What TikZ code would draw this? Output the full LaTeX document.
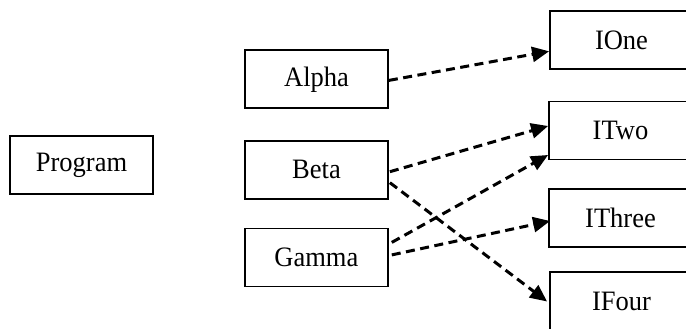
\documentclass[tikz,border=0pt]{standalone}
\usepackage{fontspec}
\setmainfont{Liberation Serif}
\usetikzlibrary{arrows.meta,calc}
\tikzset{
  box/.style={draw, line width=1.8pt, minimum width=143pt, minimum height=58pt,
    inner sep=0pt, font=\fontsize{26.5}{29}\selectfont},
  link/.style={line width=3pt, dash pattern=on 9pt off 5.5pt,
    -{Triangle[length=17pt,width=15pt]}}
}
% slightly tall lettering for the box labels
\newcommand{\boxlabel}[1]{\scalebox{1}[1.06]{#1}}
\begin{document}
\begin{tikzpicture}[x=1pt,y=-1pt]
  \useasboundingbox (0,0) rectangle (686,329);
  % classes
  \node[box] (program) at (81.5,165) {\boxlabel{Program}};
  \node[box] (alpha) at (316.5,79.4) {\boxlabel{Alpha}};
  \node[box] (beta) at (316.5,169.7) {\boxlabel{Beta}};
  \node[box] (gamma) at (316.4,257.4) {\boxlabel{Gamma}};
  % interfaces
  \node[box] (ione) at (621.5,40.3) {\boxlabel{IOne}};
  \node[box] (itwo) at (620.5,130.5) {\boxlabel{ITwo}};
  \node[box] (ithree) at (620.5,218) {\boxlabel{IThree}};
  \node[box] (ifour) at (621.5,301) {\boxlabel{IFour}};
  % realizations
  \draw[link] ($(alpha.east)+(0,1)$) -- ($(ione.west)+(0,11)$);
  \draw[link] ($(beta.east)+(1,2)$) -- ($(itwo.west)+(0,-4.5)$);
  \draw[link] ($(gamma.east)+(3,-15)$) -- ($(itwo.west)+(0,24.5)$);
  \draw[link] ($(beta.east)+(1,13)$) -- ($(ifour.west)+(-2,0.5)$);
  \draw[link] ($(gamma.east)+(3,-2.5)$) -- ($(ithree.west)+(2,3)$);
\end{tikzpicture}
\end{document}
